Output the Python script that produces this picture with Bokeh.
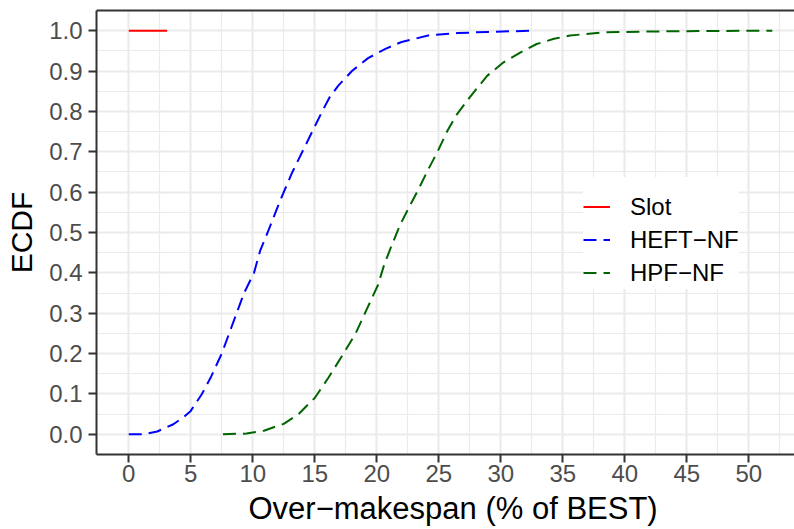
from bokeh.plotting import figure
from bokeh.models import (Range1d, FixedTicker, LinearAxis, Legend, LegendItem,
                          Title)
from bokeh.embed import file_html
from bokeh.resources import INLINE

# ECDF of over-makespan (% of BEST) for each scheduler
slot_x = [0.0, 3.1]
slot_y = [1.0, 1.0]

heft_x = [0.0, 1.2, 2.3, 3.6, 4.4, 5.0, 5.9, 6.6, 7.5, 8.1, 8.7, 9.3, 10.1,
          10.6, 11.2, 11.9, 12.5, 13.2, 14.0, 14.8, 15.6, 16.2, 16.9, 18.0,
          19.3, 20.7, 22.0, 24.3, 26.5, 29.0, 32.6]
heft_y = [0.0, 0.0, 0.007, 0.025, 0.042, 0.058, 0.10, 0.14, 0.20, 0.25, 0.30,
          0.35, 0.40, 0.455, 0.50, 0.555, 0.60, 0.65, 0.70, 0.75, 0.80, 0.835,
          0.864, 0.90, 0.932, 0.955, 0.972, 0.989, 0.994, 0.997, 1.0]

hpf_x = [7.6, 9.5, 10.9, 12.5, 13.7, 14.5, 15.0, 16.1, 17.3, 18.3, 19.2, 20.1,
         20.6, 21.1, 21.9, 22.6, 23.3, 24.1, 24.9, 25.7, 26.4, 27.5, 28.9,
         30.2, 31.6, 32.9, 34.3, 35.6, 38.3, 42.1, 46.0, 51.9]
hpf_y = [0.0, 0.002, 0.009, 0.026, 0.05, 0.075, 0.09, 0.14, 0.199, 0.25, 0.31,
         0.37, 0.42, 0.46, 0.52, 0.562, 0.603, 0.653, 0.70, 0.752, 0.79, 0.835,
         0.888, 0.921, 0.946, 0.967, 0.98, 0.988, 0.996, 0.998, 0.999, 1.0]

x_ticks = [0, 5, 10, 15, 20, 25, 30, 35, 40, 45, 50]
x_minor = [2.5, 7.5, 12.5, 17.5, 22.5, 27.5, 32.5, 37.5, 42.5, 47.5, 52.5]
y_ticks = [0.0, 0.1, 0.2, 0.3, 0.4, 0.5, 0.6, 0.7, 0.8, 0.9, 1.0]
y_minor = [0.05, 0.15, 0.25, 0.35, 0.45, 0.55, 0.65, 0.75, 0.85, 0.95]
y_labels = {v: f"{v:.1f}" for v in y_ticks}

FONT = "Liberation Sans"
DARK = "#333333"
GRID = "#EBEBEB"

p = figure(width=794, height=529, output_backend="svg", toolbar_location=None,
           x_range=Range1d(-2.6, 53.69), y_range=Range1d(-0.05, 1.05),
           min_border_left=96, min_border_right=0, min_border_top=10,
           min_border_bottom=75)
p.background_fill_color = "white"
p.border_fill_color = "white"
p.outline_line_color = None

r_slot = p.line(slot_x, slot_y, line_color="#FF0000", line_width=2)
r_heft = p.line(heft_x, heft_y, line_color="#0000FF", line_width=2,
                line_dash="13 7")
r_hpf = p.line(hpf_x, hpf_y, line_color="#006400", line_width=2,
               line_dash="13 7")

p.xaxis.ticker = FixedTicker(ticks=x_ticks, minor_ticks=x_minor)
p.yaxis.ticker = FixedTicker(ticks=y_ticks, minor_ticks=y_minor)
p.yaxis.major_label_overrides = y_labels

for ax in (p.xaxis[0], p.yaxis[0]):
    ax.axis_line_color = DARK
    ax.axis_line_width = 2
    ax.major_tick_line_color = DARK
    ax.major_tick_line_width = 2
    ax.major_tick_out = 8
    ax.major_tick_in = 0
    ax.minor_tick_out = 0
    ax.minor_tick_in = 0
    ax.major_label_text_font = FONT
    ax.major_label_text_font_size = "24px"
    ax.major_label_text_color = "#4D4D4D"
    ax.axis_label_text_font = FONT
    ax.axis_label_text_font_size = "30px"
    ax.axis_label_text_font_style = "normal"
    ax.axis_label_text_color = "black"

p.yaxis.axis_label = "ECDF"
p.xaxis.major_label_standoff = 2
p.yaxis.major_label_standoff = 6
p.yaxis.axis_label_standoff = 8

# x-axis title, placed under the tick labels
p.add_layout(Title(text="Over\u2212makespan (% of BEST)", align="left",
                   offset=152, text_font=FONT, text_font_size="31px",
                   text_font_style="normal", text_color="black",
                   standoff=8), "below")

# top border of the panel
top = LinearAxis(ticker=FixedTicker(ticks=[]), axis_line_color=DARK,
                 axis_line_width=2, major_tick_out=0, major_tick_in=0,
                 minor_tick_out=0, minor_tick_in=0,
                 major_label_text_font_size="0px")
p.add_layout(top, "above")

for g in (p.xgrid[0], p.ygrid[0]):
    g.grid_line_color = GRID
    g.grid_line_width = 2.2
    g.minor_grid_line_color = GRID
    g.minor_grid_line_width = 1.2

legend = Legend(
    items=[LegendItem(label="Slot", renderers=[r_slot]),
           LegendItem(label="HEFT\u2212NF", renderers=[r_heft]),
           LegendItem(label="HPF\u2212NF", renderers=[r_hpf])],
    location=(487, 165), orientation="vertical", margin=0, padding=16,
    spacing=0, glyph_width=27, glyph_height=33, label_height=33,
    label_standoff=20, label_text_font=FONT, label_text_font_size="24px",
    label_text_color="black", background_fill_color="white",
    background_fill_alpha=1.0, border_line_color=None,
    title=" ", title_text_font_size="8px", title_standoff=4,
)
p.add_layout(legend, "center")

open("out.html", "w").write(file_html(p, INLINE))
